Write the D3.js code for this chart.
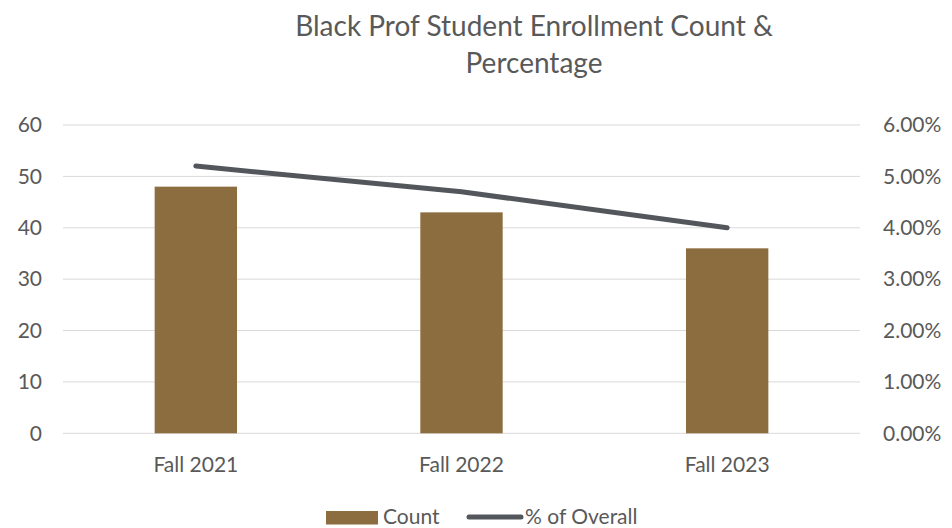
<!DOCTYPE html>
<html>
<head>
<meta charset="utf-8">
<script src="https://cdn.jsdelivr.net/npm/d3@7"></script>
<style>
  html, body { margin: 0; padding: 0; background: #fff; }
  svg { display: block; font-family: Lato, "Open Sans", sans-serif; }
</style>
</head>
<body>
<svg id="chart" width="952" height="528"></svg>
<script>
// Enrollment data
const terms = ["Fall 2021", "Fall 2022", "Fall 2023"];
const counts = [48, 43, 36];
const pctOverall = [0.052, 0.047, 0.040];
const countTicks = [0, 10, 20, 30, 40, 50, 60];
const pctTicks = [0, 0.01, 0.02, 0.03, 0.04, 0.05, 0.06];

const svg = d3.select("#chart");
const plotLeft = 63, plotRight = 860, plotTop = 125, plotBottom = 433.3;
const fontFam = "Lato, 'Open Sans', sans-serif";
const textColor = "#595959";
const labelSize = "21px";

const x = d3.scaleBand().domain(terms).range([plotLeft, plotRight]).paddingInner(0.69).paddingOuter(0.345);
const yL = d3.scaleLinear().domain([0, 60]).range([plotBottom, plotTop]);
const yR = d3.scaleLinear().domain([0, 0.06]).range([plotBottom, plotTop]);

// Title
const title = svg.append("text").attr("text-anchor", "middle").attr("fill", textColor)
  .style("font-size", "28px");
title.append("tspan").attr("x", 534).attr("y", 36).text("Black Prof Student Enrollment Count &");
title.append("tspan").attr("x", 534).attr("y", 73).text("Percentage");

// Gridlines
svg.append("g").selectAll("line").data(countTicks).join("line")
  .attr("x1", plotLeft).attr("x2", plotRight)
  .attr("y1", d => yL(d)).attr("y2", d => yL(d))
  .attr("stroke", "#d9d9d9").attr("stroke-width", 1);

function styleAxis(g) {
  g.select(".domain").remove();
  g.selectAll("text").attr("fill", textColor).style("font-size", labelSize).style("font-family", fontFam);
}

// Left axis (count)
svg.append("g").attr("transform", "translate(42,0)")
  .call(d3.axisLeft(yL).tickValues(countTicks).tickSize(0).tickPadding(0))
  .call(styleAxis);

// Right axis (percentage)
svg.append("g").attr("transform", "translate(883,0)")
  .call(d3.axisRight(yR).tickValues(pctTicks).tickFormat(d3.format(".2%")).tickSize(0).tickPadding(0))
  .call(styleAxis);

// Category labels
svg.append("g").attr("transform", "translate(0,457)")
  .call(d3.axisBottom(x).tickSize(0).tickPadding(0))
  .call(styleAxis);

// Bars
svg.append("g").selectAll("rect").data(terms).join("rect")
  .attr("x", d => x(d)).attr("width", x.bandwidth())
  .attr("y", (d, i) => yL(counts[i]))
  .attr("height", (d, i) => yL(0) - yL(counts[i]))
  .attr("fill", "#8c6d3f");

// Percentage line
const line = d3.line()
  .x((d, i) => x(terms[i]) + x.bandwidth() / 2)
  .y(d => yR(d));
svg.append("path").datum(pctOverall)
  .attr("d", line).attr("fill", "none")
  .attr("stroke", "#53575c").attr("stroke-width", 5).attr("stroke-linecap", "round");

// Legend
const lg = svg.append("g").style("font-size", labelSize).attr("fill", textColor);
lg.append("rect").attr("x", 326).attr("y", 511).attr("width", 52).attr("height", 13.5).attr("fill", "#8c6d3f");
lg.append("text").attr("x", 383).attr("y", 524).text("Count");
lg.append("line").attr("x1", 469).attr("x2", 521).attr("y1", 517).attr("y2", 517)
  .attr("stroke", "#53575c").attr("stroke-width", 5).attr("stroke-linecap", "round");
lg.append("text").attr("x", 525).attr("y", 524).text("% of Overall");
</script>
</body>
</html>
